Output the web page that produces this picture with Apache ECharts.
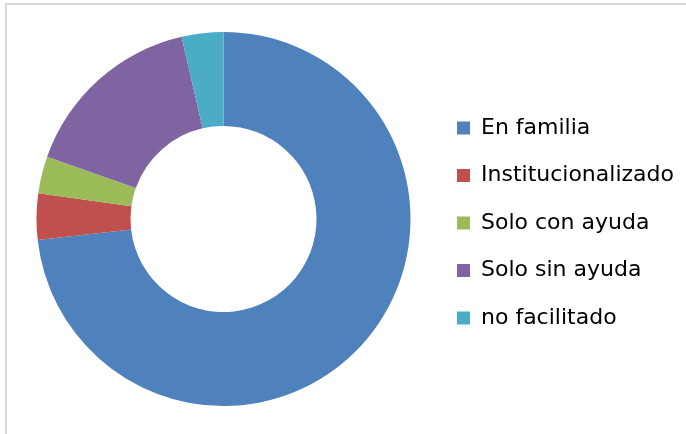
<!DOCTYPE html>
<html>
<head>
<meta charset="utf-8">
<script src="https://cdn.jsdelivr.net/npm/echarts@6/dist/echarts.min.js"></script>
<style>
  html, body { margin: 0; padding: 0; background: #ffffff; }
  #chart { width: 686px; height: 434px; }
</style>
</head>
<body>
<div id="chart"></div>
<script>
// Living situation categories and their counts
const categories = ['En familia', 'Institucionalizado', 'Solo con ayuda', 'Solo sin ayuda', 'no facilitado'];
const counts = [183, 10, 8, 40, 9];
const colors = ['#4F81BD', '#C0504D', '#9BBB59', '#8064A2', '#4BACC6'];

const chart = echarts.init(document.getElementById('chart'), null, { renderer: 'canvas' });

const option = {
  animation: false,
  color: colors,
  legend: {
    orient: 'vertical',
    left: 457,
    top: 116,
    padding: 0,
    itemWidth: 13,
    itemHeight: 13,
    itemGap: 23.5,
    icon: 'rect',
    data: categories,
    textStyle: {
      fontFamily: 'DejaVu Sans',
      fontSize: 22,
      color: '#000000',
      lineHeight: 24,
      padding: [0, 0, 0, 6]
    }
  },
  graphic: [
    {
      type: 'polyline',
      shape: { points: [[6, 434], [6, 4], [686, 4]] },
      style: { stroke: '#d9d9d9', lineWidth: 2, fill: null },
      silent: true
    }
  ],
  series: [
    {
      type: 'pie',
      center: [223.5, 219],
      radius: [93, 187],
      startAngle: 90,
      clockwise: true,
      label: { show: false },
      labelLine: { show: false },
      emphasis: { disabled: true },
      itemStyle: { borderWidth: 0 },
      data: categories.map((name, i) => ({ name, value: counts[i] }))
    }
  ]
};

chart.setOption(option);
</script>
</body>
</html>
